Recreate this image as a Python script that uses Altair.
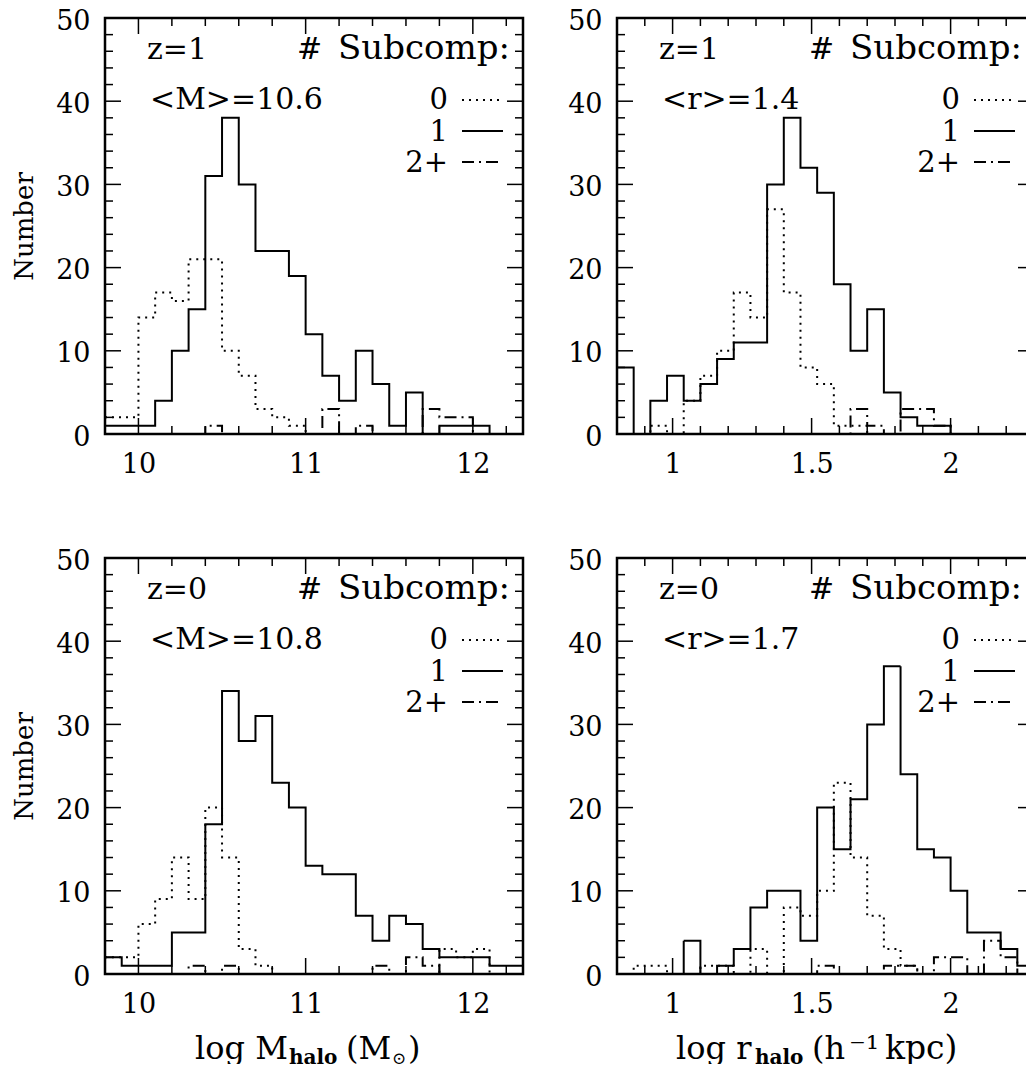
import altair as alt
import pandas as pd

FONT = "DejaVu Serif"
W_L, W_R, H = 418, 417, 416

# ---------------- data (25 bins per histogram) ----------------
SERIES = ["0", "1", "2+"]

mass_start, mass_step = 9.8, 0.1
rad_start, rad_step = 0.8, 0.06

# z=1, log M_halo
tl_n0 = [2, 2, 14, 17, 16, 21, 21, 10, 7, 3, 2, 1, 0, 0, 0, 0, 0, 0, 0, 0, 0, 0, 0, 0, 0]
tl_n1 = [1, 1, 1, 4, 10, 15, 31, 38, 30, 22, 22, 19, 12, 7, 4, 10, 6, 1, 5, 0, 1, 1, 1, 0, 0]
tl_n2 = [0, 0, 0, 0, 0, 0, 1, 0, 0, 0, 0, 0, 0, 3, 0, 1, 0, 0, 0, 3, 2, 2, 0, 0, 0]

# z=1, log r_halo
tr_n0 = [0, 0, 1, 0, 4, 7, 10, 17, 14, 27, 17, 8, 6, 1, 1, 0, 0, 0, 0, 0, 0, 0, 0, 0, 0]
tr_n1 = [8, 0, 4, 7, 4, 6, 9, 11, 11, 30, 38, 32, 29, 18, 10, 15, 5, 2, 1, 1, 0, 0, 0, 0, 0]
tr_n2 = [0, 0, 0, 0, 0, 0, 0, 0, 0, 0, 0, 0, 0, 0, 3, 1, 0, 3, 3, 1, 0, 0, 0, 0, 0]

# z=0, log M_halo
bl_n0 = [2, 2, 6, 9, 14, 9, 20, 14, 3, 1, 0, 0, 0, 0, 0, 0, 0, 0, 0, 0, 3, 2, 3, 0, 0]
bl_n1 = [2, 1, 1, 1, 5, 5, 18, 34, 28, 31, 23, 20, 13, 12, 12, 7, 4, 7, 6, 3, 2, 2, 2, 1, 1]
bl_n2 = [0, 0, 0, 0, 0, 1, 0, 1, 0, 0, 0, 0, 0, 0, 0, 0, 1, 0, 2, 1, 0, 0, 0, 0, 0]

# z=0, log r_halo
br_n0 = [0, 1, 1, 0, 0, 1, 1, 0, 3, 0, 8, 7, 10, 23, 14, 7, 3, 1, 0, 0, 0, 0, 0, 0, 0]
br_n1 = [0, 0, 0, 0, 4, 0, 1, 3, 8, 10, 10, 4, 20, 15, 21, 30, 37, 24, 15, 14, 10, 5, 5, 3, 1]
br_n2 = [0, 0, 0, 0, 0, 0, 0, 0, 0, 0, 0, 0, 1, 0, 0, 0, 1, 1, 0, 2, 2, 0, 4, 2, 0]

# axes
mass_domain = [9.8, 12.3]
rad_domain = [0.8, 2.3]
mass_major = [10, 11, 12]
mass_minor = [9.8, 10.2, 10.4, 10.6, 10.8, 11.2, 11.4, 11.6, 11.8, 12.2]
rad_major = [1.0, 1.5, 2.0]
rad_minor = [0.9, 1.1, 1.2, 1.3, 1.4, 1.6, 1.7, 1.8, 1.9, 2.1, 2.2]
y_major = [0, 10, 20, 30, 40, 50]
y_minor = [2, 4, 6, 8, 12, 14, 16, 18, 22, 24, 26, 28, 32, 34, 36, 38, 42, 44, 46, 48]

# texts
z_labels = ["z=1", "z=1", "z=0", "z=0"]
mean_labels = ["<M>=10.6", "<r>=1.4", "<M>=10.8", "<r>=1.7"]
legend_hash = "#"
legend_head = "Subcomp:"
y_title = "Number"
# (text, left x offset in panel px, font size, weight, baseline shift)
xtitle_mass = [("log M", 90, 32, "normal", 0), ("halo", 184, 20, "bold", 5), ("(M", 241, 32, "normal", 0),
               ("\u2299", 287, 17, "normal", 5), (")", 303, 32, "normal", 0)]
xtitle_rad = [("log r", 59, 32, "normal", 0), ("halo", 138, 20, "bold", 5), ("(h", 195, 32, "normal", 0),
              ("\u207b\u00b9", 232, 32, "normal", 0), ("kpc)", 268, 33, "normal", 0)]

DASH = {"0": [2, 5], "1": [1, 0], "2+": [12, 5, 2, 5]}


def hist_df(start, step, n0, n1, n2):
    rows = []
    for name, counts in zip(SERIES, [n0, n1, n2]):
        for i, c in enumerate(counts):
            rows.append({"x": round(start + i * step, 4), "n": c, "s": name})
        rows.append({"x": round(start + len(counts) * step, 4), "n": counts[-1], "s": name})
    return pd.DataFrame(rows)


def panel(df, xdom, xmajor, xminor, W, zlab, mlab, ytitle, xtitle):
    xs = alt.Scale(domain=xdom, nice=False, zero=False)
    ys = alt.Scale(domain=[0, 50], nice=False, zero=False)
    xaxis = alt.Axis(values=xmajor, ticks=False, domain=False, grid=False, labelFont=FONT,
                     labelFontSize=27, labelColor="black", labelPadding=17, title=None,
                     labelExpr="datum.value == 1 ? '1' : datum.value == 2 ? '2' : datum.label")
    yargs = dict(values=y_major, ticks=False, domain=False, grid=False, labelFont=FONT,
                 labelFontSize=27, labelColor="black", labelPadding=15, labelOffset=3)
    if ytitle:
        yaxis = alt.Axis(title=ytitle, titleFont=FONT, titleFontSize=26, titleFontWeight="normal",
                         titleColor="black", titlePadding=18, **yargs)
    else:
        yaxis = alt.Axis(title=None, **yargs)

    dash_scale = alt.Scale(domain=SERIES, range=[DASH[s] for s in SERIES])
    layers = []
    layers.append(
        alt.Chart(df).mark_line(interpolate="step-after", color="black", strokeWidth=2).encode(
            x=alt.X("x:Q", scale=xs, axis=xaxis),
            y=alt.Y("n:Q", scale=ys, axis=yaxis),
            strokeDash=alt.StrokeDash("s:N", scale=dash_scale, legend=None),
            detail="s:N",
        )
    )
    # inward ticks (same axis spec so that the shared axes merge)
    for vals, ln in [(xmajor, 16), (xminor, 8)]:
        d = pd.DataFrame({"x": vals})
        for y0, y1 in [(H, H - ln), (0, ln)]:
            layers.append(alt.Chart(d).mark_rule(color="black", strokeWidth=1.5).encode(
                x=alt.X("x:Q", scale=xs, axis=xaxis), y=alt.value(y0), y2=alt.value(y1)))
    for vals, ln in [(y_major, 16), (y_minor, 8)]:
        d = pd.DataFrame({"n": vals})
        for x0, x1 in [(0, ln), (W, W - ln)]:
            layers.append(alt.Chart(d).mark_rule(color="black", strokeWidth=1.5).encode(
                y=alt.Y("n:Q", scale=ys, axis=yaxis), x=alt.value(x0), x2=alt.value(x1)))

    def txt(t, x, y, align="left", size=30, weight="normal"):
        return alt.Chart(pd.DataFrame({"t": [t]})).mark_text(
            font=FONT, fontSize=size, fontWeight=weight, align=align, baseline="alphabetic", color="black"
        ).encode(x=alt.value(x), y=alt.value(y), text="t:N")

    layers.append(txt(zlab, 42, 41))
    layers.append(txt(legend_hash, 192, 41))
    layers.append(txt(legend_head, 405, 41, align="right", size=34))
    layers.append(txt(mlab, 45, 91))
    for i, s in enumerate(SERIES):
        layers.append(txt(s, 343, [91, 123, 154][i], align="right", size=29))
        layers.append(alt.Chart(pd.DataFrame({"s": [s]})).mark_rule(color="black", strokeWidth=2).encode(
            x=alt.value(357), x2=alt.value(398), y=alt.value([82, 113, 144][i]),
            strokeDash=alt.StrokeDash("s:N", scale=dash_scale, legend=None)))
    if xtitle:
        for t, x, size, weight, dy in xtitle:
            layers.append(txt(t, x, H + 85 + dy, size=size, weight=weight))
    return alt.layer(*layers).properties(width=W, height=H)


tl = panel(hist_df(mass_start, mass_step, tl_n0, tl_n1, tl_n2), mass_domain, mass_major, mass_minor,
           W_L, z_labels[0], mean_labels[0], y_title, None)
tr = panel(hist_df(rad_start, rad_step, tr_n0, tr_n1, tr_n2), rad_domain, rad_major, rad_minor,
           W_R, z_labels[1], mean_labels[1], None, None)
bl = panel(hist_df(mass_start, mass_step, bl_n0, bl_n1, bl_n2), mass_domain, mass_major, mass_minor,
           W_L, z_labels[2], mean_labels[2], y_title, xtitle_mass)
br = panel(hist_df(rad_start, rad_step, br_n0, br_n1, br_n2), rad_domain, rad_major, rad_minor,
           W_R, z_labels[3], mean_labels[3], None, xtitle_rad)

chart = alt.concat(tl, tr, bl, br, columns=2, spacing={"row": 124, "column": 94}, bounds="flush").properties(
    autosize=alt.AutoSizeParams(type="none"),
    padding={"left": 97, "top": 10, "right": 921, "bottom": 1046},
).configure_view(stroke="black", strokeWidth=2.5)

chart.save("out.html", embed_options={"renderer": "svg", "actions": False})
